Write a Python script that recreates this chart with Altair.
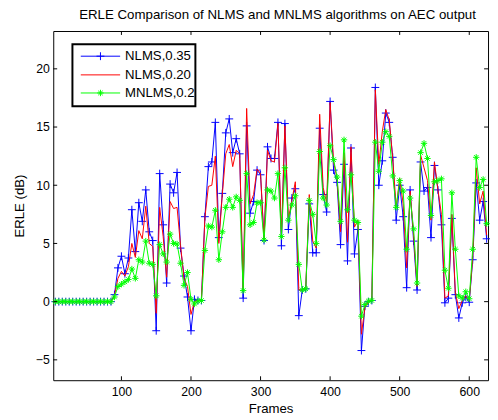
import altair as alt
import pandas as pd

# ---------------- data ----------------
frames = list(range(5, 630, 5))
lead = [0.0] * 17  # frames 5..85

nlms_035 = lead + [
    0.6, 2.9, 3.9, 2.4, 3.75, 7.9, 4.3, 8.5, 6.9, 9.6, 6.0, 5.25,
    -2.5, 11.0, 6.6, 1.6, 10.1, 9.35, 11.1, 4.6, 2.2, 0.4, -2.5, 0.2,
    0.1, 0.1, 7.3, 11.6, 12.0, 15.4, 5.5, 9.3, 14.5, 15.7, 12.8, 14.0,
    12.7, 0.3, 15.1, 7.6, 8.6, 11.3, 10.9, 5.25, 13.3, 12.3, 12.3, 15.4,
    4.8, 15.3, 6.2, 8.9, 9.7, -1.2, 1.0, 1.1, 8.4, 4.2, 4.2, 14.9,
    9.2, 7.7, 17.2, 11.3, 10.25, 4.9, 11.8, 3.5, 13.2, 4.1, 6.2, -4.2,
    -0.4, 0.0, 0.1, 18.4, 10.0, 12.1, 16.2, 15.4, 12.4, 7.0, 10.0, 7.3,
    1.2, 9.6, 5.2, 1.0, 12.0, 9.5, 9.8, 5.5, 11.7, 9.6, 6.6, -0.1,
    0.3, 7.15, 0.6, -1.4, -0.1, 0.4, -0.05, 3.6, 10.2, 7.0, 8.6, 5.4,
]
nlms_020 = lead + [
    0.5, 2.0, 2.6, 2.2, 3.0, 5.0, 3.8, 6.1, 5.4, 8.2, 5.0, 4.75,
    -1.0, 8.1, 5.6, 2.1, 8.6, 8.0, 8.1, 4.8, 2.0, 1.3, -1.1, 0.0,
    0.1, 0.1, 7.2, 9.9, 10.0, 12.5, 5.0, 9.2, 12.7, 13.5, 11.6, 13.0,
    12.7, 1.0, 16.6, 8.4, 9.2, 11.4, 11.0, 5.3, 13.0, 12.1, 12.0, 15.3,
    5.6, 15.1, 7.1, 8.7, 10.3, 1.0, 1.0, 1.2, 9.2, 5.2, 4.6, 16.1,
    9.8, 8.5, 17.1, 12.0, 10.6, 6.0, 12.8, 5.1, 13.3, 6.4, 7.0, -2.8,
    -0.5, 0.0, 0.1, 18.2, 11.8, 14.6, 16.5, 15.6, 12.3, 8.1, 10.6, 8.4,
    2.9, 9.5, 5.7, 1.3, 12.6, 11.5, 10.4, 7.0, 12.0, 9.6, 7.5, 0.3,
    0.5, 7.5, 0.8, -0.6, 0.1, 0.5, 0.1, 3.8, 11.5, 8.4, 9.5, 5.7,
]
mnlms_02 = lead + [
    0.4, 1.3, 1.5, 1.7, 1.9, 2.8, 2.0, 3.6, 3.4, 5.2, 3.3, 3.2,
    0.5, 4.9, 4.1, 3.4, 5.8, 5.0, 4.95, 3.3, 1.4, 2.5, 0.2, -0.2,
    0.05, 0.1, 4.4, 6.5, 6.4, 7.85, 3.6, 6.0, 8.1, 8.8, 8.1, 9.0,
    8.7, 0.95, 11.0, 6.6, 6.8, 8.5, 8.5, 5.3, 9.6, 9.5, 8.9, 11.0,
    5.6, 11.5, 7.0, 8.3, 9.1, 3.2, 1.0, 1.1, 8.7, 7.5, 5.0, 12.9,
    8.9, 8.3, 13.4, 12.2, 10.7, 6.9, 13.9, 7.9, 10.9, 7.0, 6.8, -1.25,
    -0.25, 0.05, 0.1, 13.7, 11.2, 13.7, 14.6, 14.2, 10.8, 8.1, 10.4, 9.5,
    4.5, 8.9, 6.25, 1.6, 12.8, 13.6, 12.3, 7.4, 10.3, 10.4, 10.55, 2.7,
    1.15, 9.35, 4.5, 0.5, 0.3, 0.85, 0.25, 4.5, 12.4, 9.8, 10.5, 6.7,
]

series_names = ["NLMS,0.35", "NLMS,0.20", "MNLMS,0.2"]
x_ticks = [100, 200, 300, 400, 500, 600]
y_ticks = [-5, 0, 5, 10, 15, 20]

# ---------------- layout / style ----------------
W, H = 442, 355
X_DOM = [2, 627]
Y_DOM = [-6.75, 23.25]
FONT = "Liberation Sans"
BLUE, RED, GREEN = "#0000FF", "#FF0000", "#00FF00"
PLUS = "M-1,0L1,0M0,-1L0,1"
STAR = "M-1,0L1,0M0,-1L0,1M-0.7,-0.7L0.7,0.7M-0.7,0.7L0.7,-0.7"

df = pd.DataFrame({"frame": frames, "b": nlms_035, "r": nlms_020, "g": mnlms_02})

xs = alt.Scale(domain=X_DOM, nice=False, zero=False)
ys = alt.Scale(domain=Y_DOM, nice=False, zero=False)
xax = alt.Axis(values=x_ticks, title="Frames", grid=False, ticks=False, tickSize=0,
               domain=False, labelPadding=6, titlePadding=3)
yax = alt.Axis(values=y_ticks, title="ERLE (dB)", grid=False, ticks=False, tickSize=0,
               domain=False, labelPadding=4, titlePadding=9)

base = alt.Chart(df)
X = alt.X("frame:Q", scale=xs, axis=xax)


def yenc(col):
    return alt.Y(f"{col}:Q", scale=ys, axis=yax)


blue_line = base.mark_line(color=BLUE, strokeWidth=1).encode(x=X, y=yenc("b"))
blue_pts = base.mark_point(shape=PLUS, size=64, color=BLUE, strokeWidth=1,
                           filled=False, opacity=1).encode(x=X, y=yenc("b"))
red_line = base.mark_line(color=RED, strokeWidth=1).encode(x=X, y=yenc("r"))
green_line = base.mark_line(color=GREEN, strokeWidth=1).encode(x=X, y=yenc("g"))
green_pts = base.mark_point(shape=STAR, size=42, color=GREEN, strokeWidth=1,
                            filled=False, opacity=1).encode(x=X, y=yenc("g"))

# inward ticks (MATLAB style)
xt = pd.DataFrame({"t": x_ticks})
yt = pd.DataFrame({"t": y_ticks})
TL = 4
tick_layers = [
    alt.Chart(xt).mark_rule(color="black", strokeWidth=1).encode(
        x=alt.X("t:Q", scale=xs), y=alt.value(H), y2=alt.value(H - TL)),
    alt.Chart(xt).mark_rule(color="black", strokeWidth=1).encode(
        x=alt.X("t:Q", scale=xs), y=alt.value(0), y2=alt.value(TL)),
    alt.Chart(yt).mark_rule(color="black", strokeWidth=1).encode(
        y=alt.Y("t:Q", scale=ys), x=alt.value(0), x2=alt.value(TL)),
    alt.Chart(yt).mark_rule(color="black", strokeWidth=1).encode(
        y=alt.Y("t:Q", scale=ys), x=alt.value(W), x2=alt.value(W - TL)),
]

# legend (drawn inside plot, upper left)
one = pd.DataFrame({"a": [0]})
LBX1, LBX2, LBY1, LBY2 = 19.5, 144.5, 13.5, 76.5
rows_y = [25.6, 44.6, 63.0]
LX1, LX2, LMX, LTX = 28, 68, 48, 73
legend_layers = [
    alt.Chart(one).mark_rect(fill="white", stroke="black", strokeWidth=2).encode(
        x=alt.value(LBX1), x2=alt.value(LBX2), y=alt.value(LBY1), y2=alt.value(LBY2))
]
colors = [BLUE, RED, GREEN]
shapes = [PLUS, None, STAR]
sizes = [64, 0, 42]
for name, col, shp, sz, ry in zip(series_names, colors, shapes, sizes, rows_y):
    legend_layers.append(
        alt.Chart(one).mark_rule(color=col, strokeWidth=1).encode(
            x=alt.value(LX1), x2=alt.value(LX2), y=alt.value(ry)))
    if shp is not None:
        legend_layers.append(
            alt.Chart(one).mark_point(shape=shp, size=sz, color=col, strokeWidth=1,
                                      filled=False, opacity=1).encode(
                x=alt.value(LMX), y=alt.value(ry)))
    legend_layers.append(
        alt.Chart(one).mark_text(text=name, align="left", baseline="middle",
                                 fontSize=13.4, font=FONT, color="black").encode(
            x=alt.value(LTX), y=alt.value(ry)))

chart = alt.layer(
    blue_line, blue_pts, red_line, green_line, green_pts, *tick_layers, *legend_layers
).properties(
    width=W, height=H,
    background="white",
    title=alt.TitleParams("ERLE Comparison of NLMS and MNLMS algorithms on AEC output",
                          font=FONT, fontSize=13.5, fontWeight="normal", color="black",
                          anchor="middle", offset=9, dx=7),
    autosize=alt.AutoSizeParams(type="none"),
    padding={"left": 46, "top": 20, "right": 2, "bottom": 34},
).configure_view(stroke="black", strokeWidth=1).configure_axis(
    labelFont=FONT, labelFontSize=12.5, labelColor="black",
    titleFont=FONT, titleFontSize=13.4, titleFontWeight="normal", titleColor="black",
)

chart.save("out.html", embed_options={"renderer": "svg", "actions": False})
